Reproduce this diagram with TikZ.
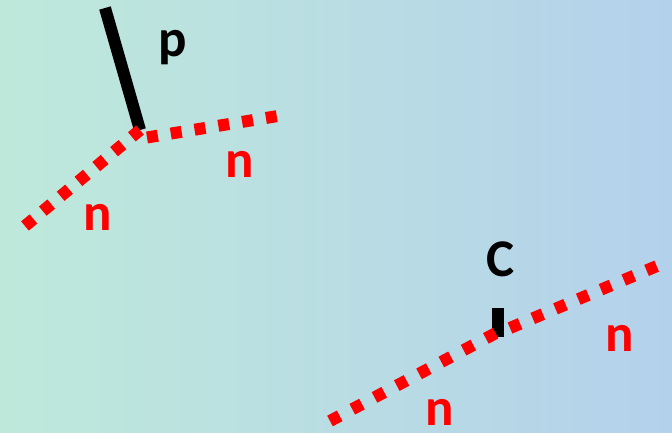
\documentclass[tikz,border=0pt]{standalone}
\usepackage{fontspec}
\setmainfont{Carlito}
\begin{document}
\begin{tikzpicture}[x=1pt,y=-1pt,
  redline/.style={draw=red,line width=12pt,dash pattern=on 11pt off #1,line cap=butt},
  blackline/.style={draw=black,line width=12pt,line cap=butt},
  lbl/.style={font=\fontsize{53}{53}\selectfont\bfseries,inner sep=0pt}]
\useasboundingbox (0,0) rectangle (672,432);
\shade[left color={rgb,255:red,190;green,233;blue,218},right color={rgb,255:red,180;green,209;blue,236}] (0,0) rectangle (672,432);
% group 1
\coordinate (ptop) at (105,8);
\coordinate (v1) at (140,130);
\coordinate (n1end) at (25,226);
\coordinate (n2start) at (147,137.5);
\coordinate (n2end) at (278,116);
\draw[blackline] (ptop) -- (v1);
\draw[redline=12.2pt] (n1end) -- (v1);
\draw[redline=13.1pt] (n2start) -- (n2end);
\node[lbl,text=black] (p) at (173,48) {p};
\node[lbl,text=red] (na) at (240,164) {n};
\node[lbl,text=red] (nb) at (98,217) {n};
% group 2
\coordinate (ctop) at (498,308);
\coordinate (cbot) at (498,337);
\coordinate (m1end) at (330,421);
\coordinate (m1start) at (496,333);
\coordinate (m2start) at (510,328);
\coordinate (m2end) at (657,266);
\draw[blackline] (ctop) -- (cbot);
\draw[redline=14.2pt] (m1end) -- (m1start);
\draw[redline=13.7pt] (m2start) -- (m2end);
\node[lbl,text=black] (c) at (501,259) {C};
\node[lbl,text=red] (nc) at (620,338) {n};
\node[lbl,text=red] (nd) at (440,412) {n};
\end{tikzpicture}
\end{document}
